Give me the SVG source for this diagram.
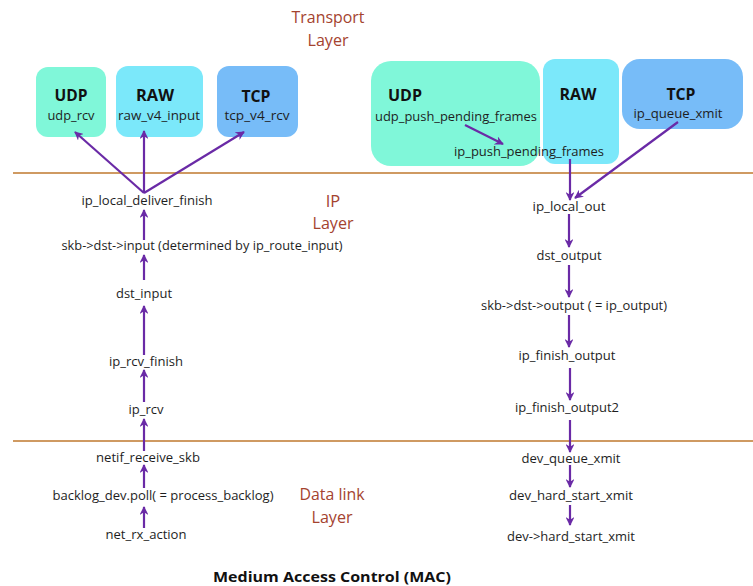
<svg xmlns="http://www.w3.org/2000/svg" width="753" height="586" viewBox="0 0 753 586">
  <style>
    .fn { font-family: "Open Sans", "Liberation Sans", sans-serif; font-size: 13.5px; fill: #1e1e1e; text-anchor: middle; }
    .proto { font-family: "Open Sans", "Liberation Sans", sans-serif; font-size: 16px; font-weight: bold; fill: #111; text-anchor: middle; }
    .layer { font-family: "Open Sans", "Liberation Sans", sans-serif; font-size: 16.5px; fill: #a4432f; text-anchor: middle; }
    .mac { font-family: "Open Sans", "Liberation Sans", sans-serif; font-size: 15px; font-weight: bold; fill: #111; text-anchor: middle; }
    .sep { stroke: #cf9a62; stroke-width: 2.2; }
    .udp { fill: #80f7d9; }
    .raw { fill: #7be8fa; }
    .tcp { fill: #77bcf8; }
    .arrow { stroke: #6a2aa6; stroke-width: 2.2; fill: none; marker-end: url(#head); }
  </style>
  <defs>
    <marker id="head" viewBox="0 0 10 10" refX="9" refY="5" markerWidth="4" markerHeight="4" orient="auto" markerUnits="strokeWidth">
      <path d="M0,0 L10,5 L0,10 L3,5 Z" fill="#6a2aa6"/>
    </marker>
  </defs>

  <rect width="753" height="586" fill="#ffffff"/>

  <!-- layer separators -->
  <g id="separators">
    <line class="sep" x1="13" y1="173" x2="753" y2="173"/>
    <line class="sep" x1="13" y1="441" x2="753" y2="441"/>
  </g>

  <!-- layer titles -->
  <g id="layer-labels">
    <text class="layer" x="328" y="23" textLength="73" lengthAdjust="spacingAndGlyphs">Transport</text>
    <text class="layer" x="328" y="46" textLength="41" lengthAdjust="spacingAndGlyphs">Layer</text>
    <text class="layer" x="333" y="207">IP</text>
    <text class="layer" x="333" y="229" textLength="41" lengthAdjust="spacingAndGlyphs">Layer</text>
    <text class="layer" x="332" y="500" textLength="65" lengthAdjust="spacingAndGlyphs">Data link</text>
    <text class="layer" x="332" y="523" textLength="41" lengthAdjust="spacingAndGlyphs">Layer</text>
    <text class="mac" x="332" y="582" textLength="238" lengthAdjust="spacingAndGlyphs">Medium Access Control (MAC)</text>
  </g>

  <!-- receive side: transport protocols -->
  <g id="rx-udp">
    <rect class="udp" x="36" y="67" width="70" height="70" rx="12"/>
    <text class="proto" x="71" y="101" textLength="33" lengthAdjust="spacingAndGlyphs">UDP</text>
    <text class="fn" x="71" y="120" textLength="47" lengthAdjust="spacingAndGlyphs">udp_rcv</text>
  </g>
  <g id="rx-raw">
    <rect class="raw" x="116" y="66" width="87" height="71" rx="12"/>
    <text class="proto" x="155" y="101" textLength="38" lengthAdjust="spacingAndGlyphs">RAW</text>
    <text class="fn" x="159" y="120" textLength="82" lengthAdjust="spacingAndGlyphs">raw_v4_input</text>
  </g>
  <g id="rx-tcp">
    <rect class="tcp" x="217" y="66" width="81" height="71" rx="12"/>
    <text class="proto" x="256" y="102" textLength="29" lengthAdjust="spacingAndGlyphs">TCP</text>
    <text class="fn" x="257" y="120" textLength="65" lengthAdjust="spacingAndGlyphs">tcp_v4_rcv</text>
  </g>

  <!-- transmit side: transport protocols -->
  <g id="tx-udp">
    <rect class="udp" x="371" y="61" width="169" height="105" rx="20"/>
    <text class="proto" x="405" y="101" textLength="34" lengthAdjust="spacingAndGlyphs">UDP</text>
    <text class="fn" x="456" y="121" textLength="162" lengthAdjust="spacingAndGlyphs">udp_push_pending_frames</text>
  </g>
  <g id="tx-raw">
    <rect class="raw" x="543" y="59" width="76" height="105" rx="12"/>
    <text class="proto" x="578" y="100" textLength="37" lengthAdjust="spacingAndGlyphs">RAW</text>
  </g>
  <g id="tx-ip-push">
    <text class="fn" x="529" y="156" textLength="150" lengthAdjust="spacingAndGlyphs">ip_push_pending_frames</text>
  </g>
  <g id="tx-tcp">
    <rect class="tcp" x="622" y="59" width="121" height="70" rx="18"/>
    <text class="proto" x="681" y="100" textLength="29" lengthAdjust="spacingAndGlyphs">TCP</text>
    <text class="fn" x="678" y="118" textLength="89" lengthAdjust="spacingAndGlyphs">ip_queue_xmit</text>
  </g>

  <!-- receive path -->
  <g id="rx-ip-local-deliver-finish"><text class="fn" x="147" y="205" textLength="131" lengthAdjust="spacingAndGlyphs">ip_local_deliver_finish</text></g>
  <g id="rx-dst-input-ptr"><text class="fn" x="202" y="250" textLength="281" lengthAdjust="spacingAndGlyphs">skb-&gt;dst-&gt;input (determined by ip_route_input)</text></g>
  <g id="rx-dst-input"><text class="fn" x="144" y="298" textLength="56" lengthAdjust="spacingAndGlyphs">dst_input</text></g>
  <g id="rx-ip-rcv-finish"><text class="fn" x="146" y="366" textLength="74" lengthAdjust="spacingAndGlyphs">ip_rcv_finish</text></g>
  <g id="rx-ip-rcv"><text class="fn" x="146" y="414" textLength="35" lengthAdjust="spacingAndGlyphs">ip_rcv</text></g>
  <g id="rx-netif-receive-skb"><text class="fn" x="148" y="462" textLength="104" lengthAdjust="spacingAndGlyphs">netif_receive_skb</text></g>
  <g id="rx-backlog-poll"><text class="fn" x="163" y="500" textLength="221" lengthAdjust="spacingAndGlyphs">backlog_dev.poll( = process_backlog)</text></g>
  <g id="rx-net-rx-action"><text class="fn" x="146" y="539" textLength="81" lengthAdjust="spacingAndGlyphs">net_rx_action</text></g>

  <!-- transmit path -->
  <g id="tx-ip-local-out"><text class="fn" x="569" y="211" textLength="73" lengthAdjust="spacingAndGlyphs">ip_local_out</text></g>
  <g id="tx-dst-output"><text class="fn" x="569" y="260" textLength="65" lengthAdjust="spacingAndGlyphs">dst_output</text></g>
  <g id="tx-dst-output-ptr"><text class="fn" x="574" y="310" textLength="186" lengthAdjust="spacingAndGlyphs">skb-&gt;dst-&gt;output ( = ip_output)</text></g>
  <g id="tx-ip-finish-output"><text class="fn" x="567" y="360" textLength="97" lengthAdjust="spacingAndGlyphs">ip_finish_output</text></g>
  <g id="tx-ip-finish-output2"><text class="fn" x="567" y="412" textLength="104" lengthAdjust="spacingAndGlyphs">ip_finish_output2</text></g>
  <g id="tx-dev-queue-xmit"><text class="fn" x="571" y="463" textLength="99" lengthAdjust="spacingAndGlyphs">dev_queue_xmit</text></g>
  <g id="tx-dev-hard-start-xmit"><text class="fn" x="571" y="500" textLength="124" lengthAdjust="spacingAndGlyphs">dev_hard_start_xmit</text></g>
  <g id="tx-dev-ptr-hard-start-xmit"><text class="fn" x="571" y="541" textLength="128" lengthAdjust="spacingAndGlyphs">dev-&gt;hard_start_xmit</text></g>

  <!-- call flow -->
  <g id="connectors">
    <line class="arrow" x1="144" y1="193" x2="75" y2="132"/>
    <line class="arrow" x1="144" y1="193" x2="144" y2="131"/>
    <line class="arrow" x1="144" y1="193" x2="244" y2="132"/>
    <line class="arrow" x1="144" y1="240" x2="144" y2="210"/>
    <line class="arrow" x1="144" y1="280" x2="144" y2="255"/>
    <line class="arrow" x1="144" y1="355" x2="144" y2="306"/>
    <line class="arrow" x1="144" y1="402" x2="144" y2="370"/>
    <line class="arrow" x1="144" y1="451" x2="144" y2="419"/>
    <line class="arrow" x1="144" y1="488" x2="144" y2="465"/>
    <line class="arrow" x1="144" y1="528" x2="144" y2="507"/>

    <line class="arrow" x1="465" y1="125" x2="503" y2="144"/>
    <line class="arrow" x1="570" y1="159" x2="570" y2="200"/>
    <line class="arrow" x1="678" y1="122" x2="575" y2="198"/>
    <line class="arrow" x1="569" y1="214" x2="569" y2="247"/>
    <line class="arrow" x1="569" y1="265" x2="569" y2="297"/>
    <line class="arrow" x1="569" y1="315" x2="569" y2="347"/>
    <line class="arrow" x1="570" y1="368" x2="570" y2="400"/>
    <line class="arrow" x1="570" y1="420" x2="570" y2="452"/>
    <line class="arrow" x1="570" y1="465" x2="570" y2="487"/>
    <line class="arrow" x1="570" y1="505" x2="570" y2="525"/>
  </g>
</svg>
